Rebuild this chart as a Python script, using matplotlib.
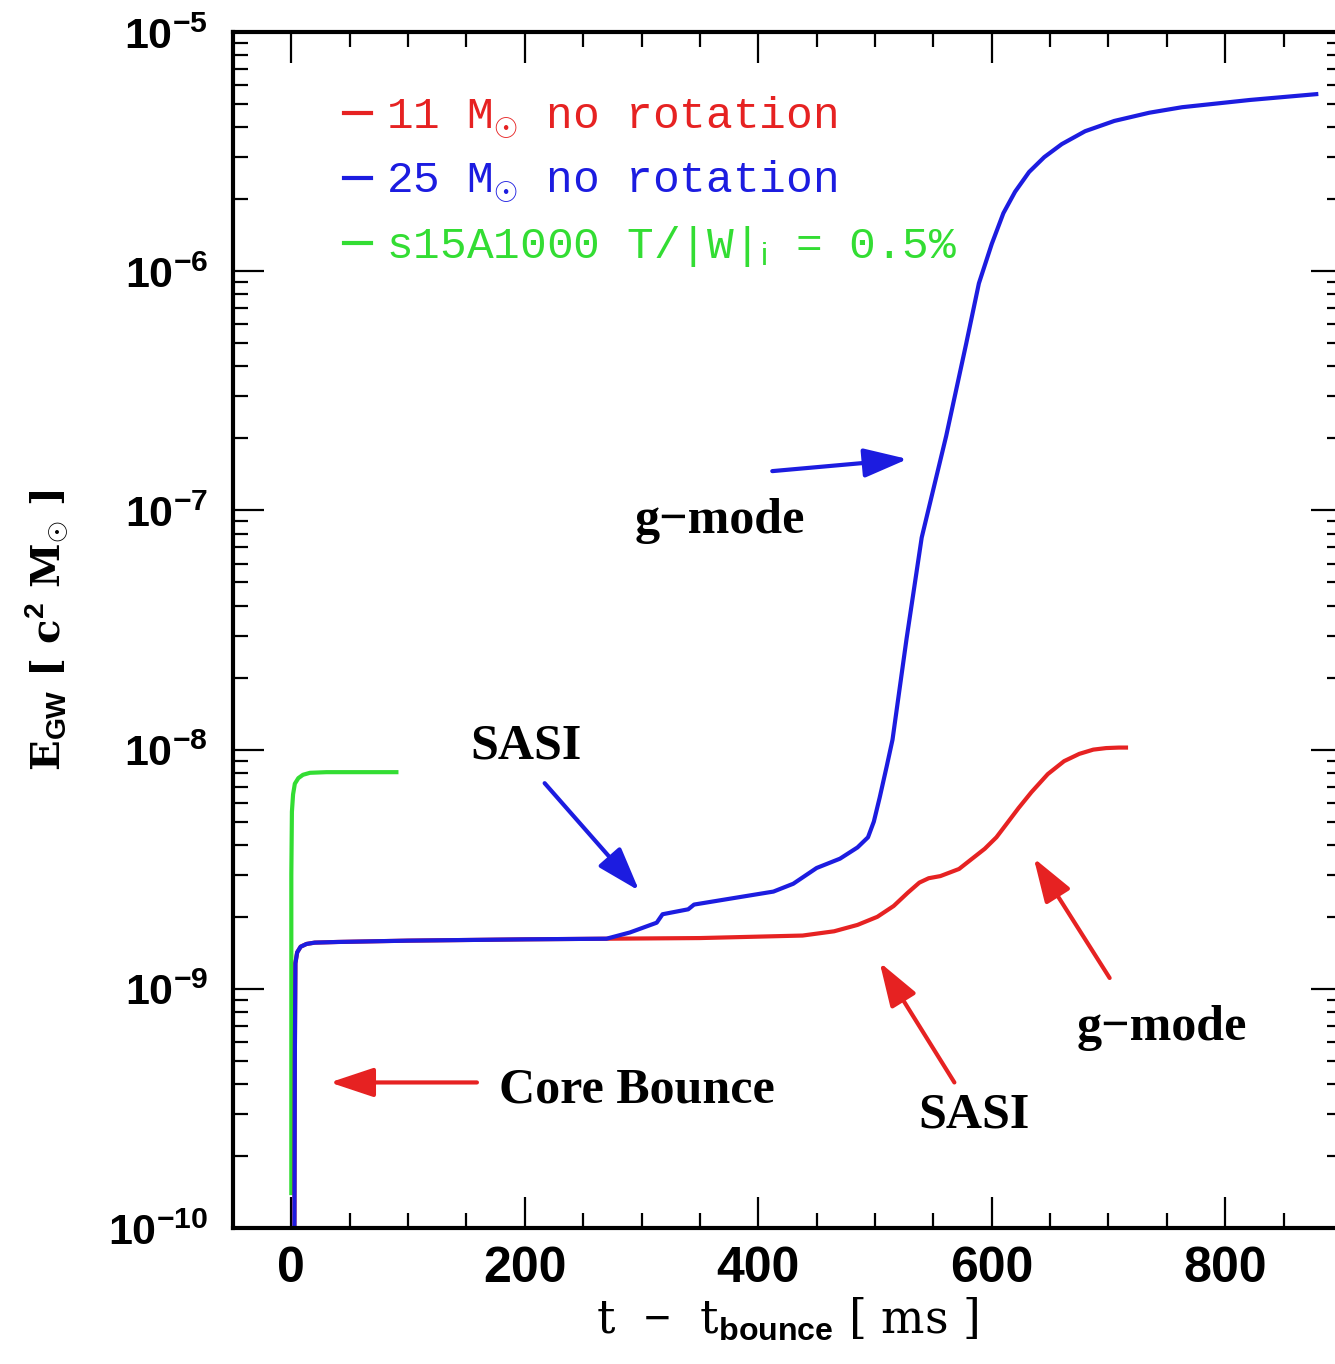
import math
import matplotlib
matplotlib.use('Agg')
from matplotlib import pyplot as plt
from matplotlib.ticker import FixedLocator, MultipleLocator, LogLocator, FuncFormatter, NullFormatter

plt.rcParams['mathtext.fontset'] = 'custom'
plt.rcParams['mathtext.rm'] = 'Liberation Sans'
plt.rcParams['mathtext.bf'] = 'Liberation Sans:bold'
plt.rcParams['mathtext.it'] = 'Liberation Sans:italic'

# 11 Msun, no rotation (red)
t_11 = [2.5, 3, 3.5, 5, 8, 13, 20, 40, 100, 200, 270, 350, 438, 465, 485, 502, 516,
        528, 538, 546, 556, 572, 594, 604, 612, 623, 634, 648, 662, 675, 687, 698,
        709, 715]
e_11 = [5e-11, 5e-10, 1.28e-9, 1.42e-9, 1.5e-9, 1.54e-9, 1.56e-9, 1.57e-9, 1.59e-9,
        1.61e-9, 1.62e-9, 1.63e-9, 1.67e-9, 1.74e-9, 1.85e-9, 2.0e-9, 2.22e-9,
        2.52e-9, 2.78e-9, 2.9e-9, 2.96e-9, 3.17e-9, 3.85e-9, 4.3e-9, 4.84e-9,
        5.7e-9, 6.64e-9, 7.9e-9, 8.95e-9, 9.6e-9, 1.0e-8, 1.015e-8, 1.02e-8, 1.02e-8]

# 25 Msun, no rotation (blue)
t_25 = [2.5, 3, 3.5, 5, 8, 13, 20, 40, 100, 200, 270, 290, 313, 318, 340, 345,
        380, 413, 430, 450, 470, 485, 494, 499, 504, 510, 515, 527, 540, 561, 578,
        589, 600, 610, 620, 632, 645, 660, 680, 705, 735, 763, 821, 878]
e_25 = [5e-11, 5e-10, 1.28e-9, 1.42e-9, 1.5e-9, 1.54e-9, 1.56e-9, 1.57e-9, 1.59e-9,
        1.61e-9, 1.62e-9, 1.72e-9, 1.89e-9, 2.05e-9, 2.15e-9, 2.25e-9, 2.4e-9,
        2.55e-9, 2.75e-9, 3.2e-9, 3.5e-9, 3.9e-9, 4.3e-9, 5.0e-9, 6.3e-9, 8.5e-9,
        1.1e-8, 2.9e-8, 7.7e-8, 2.05e-7, 4.95e-7, 8.9e-7, 1.3e-6, 1.75e-6, 2.15e-6,
        2.6e-6, 3.0e-6, 3.4e-6, 3.85e-6, 4.25e-6, 4.6e-6, 4.85e-6, 5.2e-6, 5.5e-6]

# s15A1000 (green)
t_s15 = [0, 0, 0.5, 1.5, 3, 6, 10, 16, 30, 60, 90]
e_s15 = [1.4e-10, 3e-9, 5.5e-9, 6.5e-9, 7.2e-9, 7.6e-9, 7.85e-9, 8.0e-9, 8.05e-9,
         8.05e-9, 8.05e-9]

labels = [r'11 M$_{\odot}$ no rotation', r'25 M$_{\odot}$ no rotation',
          r's15A1000 T/|W|$_{\rm i}$ = 0.5%']

RED = '#e62222'
BLUE = '#1c1ce0'
GREEN = '#33dd33'

fig = plt.figure(figsize=(13.35, 13.64), dpi=100)
ax = fig.add_axes([0.1745, 0.0997, 0.8307, 0.8768])

lg, = ax.plot(t_s15, e_s15, color=GREEN, lw=3)
lr, = ax.plot(t_11, e_11, color=RED, lw=3)
lb, = ax.plot(t_25, e_25, color=BLUE, lw=3)

ax.set_yscale('log')
ax.set_xlim(-50, 900)
ax.set_ylim(1e-10, 1e-5)

ax.xaxis.set_major_locator(FixedLocator([0, 200, 400, 600, 800]))
ax.xaxis.set_minor_locator(MultipleLocator(50))
ax.yaxis.set_major_locator(LogLocator(base=10, numticks=10))
ax.yaxis.set_minor_locator(LogLocator(base=10, subs=range(2, 10), numticks=20))
ax.yaxis.set_minor_formatter(NullFormatter())
ax.yaxis.set_major_formatter(FuncFormatter(
    lambda v, p: r'$\mathbf{10^{%d}}$' % round(math.log10(v))))

ax.tick_params(which='both', direction='in', top=True, right=True, width=1.6)
ax.tick_params(which='major', length=22)
ax.tick_params(which='minor', length=11)
ax.tick_params(axis='x', which='major', labelsize=36, pad=13)
ax.tick_params(axis='y', which='major', labelsize=31, pad=18)
for lab in ax.get_xticklabels():
    lab.set_fontfamily('Liberation Sans')
    lab.set_fontweight('bold')
for s in ax.spines.values():
    s.set_linewidth(3)

ax.set_xlabel(r't  $-$  t$_{\mathbf{bounce}}$ [ ms ]', fontsize=33, family='DejaVu Serif')
ax.xaxis.set_label_coords(0.5, -0.057)
ax.set_ylabel(r'E$_{\mathbf{GW}}$ [ c$^{\mathbf{2}}$ M$_{\odot}$ ]', fontsize=29,
              family='DejaVu Serif', fontweight='bold')
ax.yaxis.set_label_coords(-0.147, 0.5)

leg = ax.legend([lr, lb, lg], labels, loc='upper left', bbox_to_anchor=(0.1, 0.948),
                frameon=False, prop={'family': 'Liberation Mono', 'size': 32},
                labelcolor='linecolor', handlelength=0.6, handletextpad=0.35,
                borderpad=0, borderaxespad=0, labelspacing=0.42)

ann_font = dict(family='Liberation Serif', fontweight='bold', fontsize=36)
arrow = dict(arrowstyle='-|>,head_length=1.35,head_width=0.45', lw=3,
             mutation_scale=20, shrinkA=0, shrinkB=0)

ax.text(201, 1.03e-8, 'SASI', ha='center', va='center', **ann_font)
ax.annotate('', xy=(298, 2.57e-9), xytext=(217, 7.24e-9),
            arrowprops=dict(arrow, color=BLUE))
ax.text(367, 9.06e-8, 'g\u2212mode', ha='center', va='center', **ann_font)
ax.annotate('', xy=(528, 1.64e-7), xytext=(412, 1.46e-7),
            arrowprops=dict(arrow, color=BLUE))
ax.text(178, 3.77e-10, 'Core Bounce', ha='left', va='center', **ann_font)
ax.annotate('', xy=(33, 4.06e-10), xytext=(159, 4.06e-10),
            arrowprops=dict(arrow, color=RED))
ax.text(585, 2.96e-10, 'SASI', ha='center', va='center', **ann_font)
ax.annotate('', xy=(504, 1.29e-9), xytext=(568, 4.06e-10),
            arrowprops=dict(arrow, color=RED))
ax.text(746, 6.89e-10, 'g\u2212mode', ha='center', va='center', **ann_font)
ax.annotate('', xy=(636, 3.52e-9), xytext=(701, 1.11e-9),
            arrowprops=dict(arrow, color=RED))

fig.savefig('out.png', dpi=100)
